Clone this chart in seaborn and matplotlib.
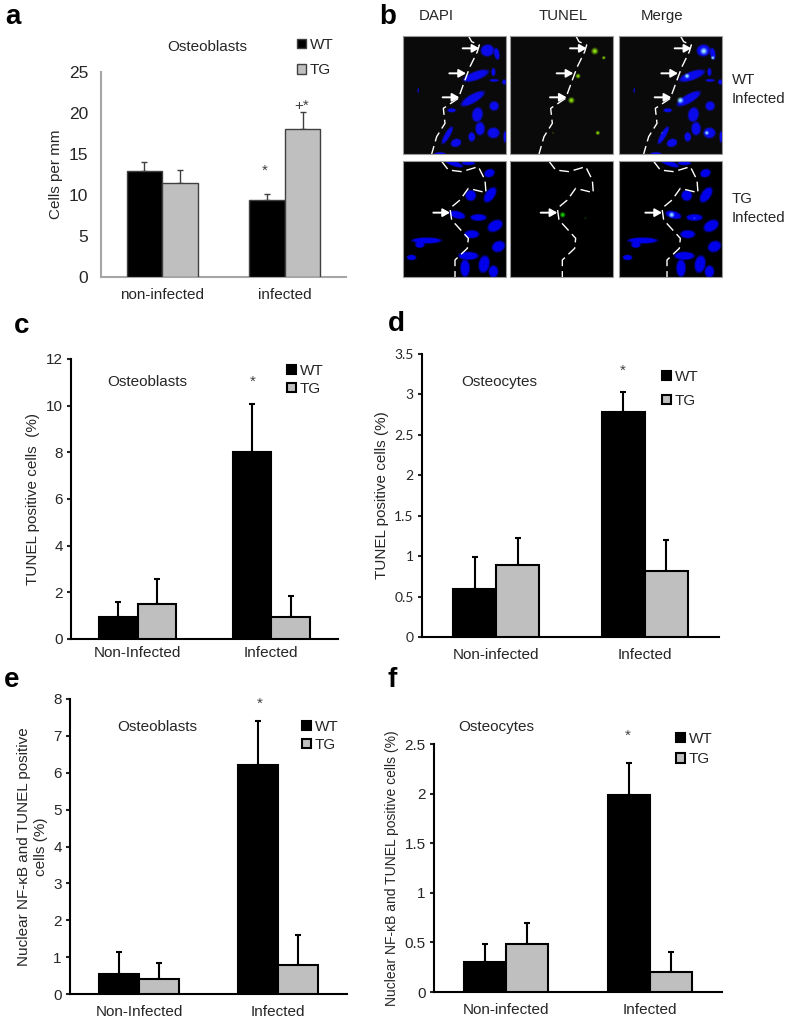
# plot.py - six panel figure, bar charts plus the micrograph panel b

import numpy as np
import pandas as pd
import seaborn as sns
import matplotlib.pyplot as plt
from matplotlib.patches import Patch, Rectangle

W, H = 787, 1023
GREY = '#bfbfbf'

# Bar values, order: non-infected, infected
a_wt = [12.9, 9.4]
a_tg = [11.5, 18.1]
a_wt_err = [1.1, 0.7]
a_tg_err = [1.6, 2.0]
a_cats = ['non-infected', 'infected']

c_wt = [0.95, 8.03]
c_tg = [1.5, 0.93]
c_wt_err = [0.65, 2.03]
c_tg_err = [1.06, 0.92]
c_cats = ['Non-Infected', 'Infected']

d_wt = [0.59, 2.78]
d_tg = [0.89, 0.82]
d_wt_err = [0.4, 0.25]
d_tg_err = [0.33, 0.38]
d_cats = ['Non-infected', 'Infected']

e_wt = [0.55, 6.2]
e_tg = [0.42, 0.8]
e_wt_err = [0.6, 1.2]
e_tg_err = [0.42, 0.8]
e_cats = ['Non-Infected', 'Infected']

f_wt = [0.3, 1.99]
f_tg = [0.48, 0.2]
f_wt_err = [0.18, 0.32]
f_tg_err = [0.22, 0.2]
f_cats = ['Non-infected', 'Infected']

# Micrograph blobs (x, y, rx, ry, angle), in units of 1/3 pixel
cells_top = [(292, 150, 20, 18, -10), (320, 160, 8, 18, -10), (258, 226, 40, 13, -20),
             (310, 215, 6, 12, 0), (312, 240, 14, 4, 0), (342, 245, 6, 8, 0),
             (248, 295, 40, 13, -30), (185, 330, 13, 6, 0), (262, 343, 16, 22, 10),
             (312, 317, 14, 14, 0), (270, 385, 14, 20, 0), (245, 410, 10, 14, 0),
             (310, 398, 18, 16, 0), (172, 405, 8, 30, 30), (198, 428, 16, 12, -20),
             (150, 460, 16, 4, 0), (344, 410, 4, 18, 0), (85, 270, 2, 8, 0)]
cells_bottom = [(190, 490, 30, 8, 20), (235, 490, 20, 6, 0), (298, 520, 16, 12, -20),
                (242, 587, 16, 16, 0), (300, 585, 14, 26, 35), (202, 645, 24, 11, 15),
                (265, 653, 24, 10, 0), (315, 678, 24, 16, -30), (245, 703, 22, 12, 0),
                (110, 722, 44, 9, 0), (90, 735, 14, 9, 0), (325, 740, 20, 16, -25),
                (65, 773, 14, 8, 0), (235, 768, 30, 12, 0), (225, 805, 14, 26, 0),
                (282, 793, 16, 26, 10), (310, 815, 14, 18, 0)]
spots_top = [(293, 152, 10), (320, 172, 5), (243, 227, 7), (223, 300, 9), (302, 398, 6), (168, 398, 3)]
spots_bottom = [(197, 645, 8), (265, 655, 3)]
line_top = [(235, 107), (245, 125), (268, 135), (262, 155), (240, 200), (225, 240),
            (205, 295), (160, 325), (165, 370), (140, 410), (125, 462)]
line_bottom = [(155, 484), (175, 510), (215, 515), (265, 500), (285, 540), (288, 578),
               (235, 565), (210, 600), (180, 625), (185, 660), (235, 715), (232, 745),
               (195, 780), (195, 832)]
arrows_top = [(268, 145), (228, 220), (208, 292)]
arrows_bottom = [(180, 638)]


def bar_panel(fig, box, ymax, yticks, wt, tg, wt_err, tg_err, cats, ylabel=None, grey_axes=False,
              legend_at=(0, 0), legend_gap=1.0, xpad=8, tick_font=None, ylab_size=11):
    left, right, top, bottom = box
    ax = fig.add_axes([left / W, 1 - bottom / H, (right - left) / W, (bottom - top) / H])
    df = pd.DataFrame({'cat': cats * 2,
                       'val': wt + tg,
                       'geno': ['WT'] * len(wt) + ['TG'] * len(tg)})
    edge = '#404040' if grey_axes else 'black'
    lw = 1.0 if grey_axes else 1.5
    sns.barplot(data=df, x='cat', y='val', hue='geno', palette={'WT': 'black', 'TG': GREY},
                width=0.58, gap=0, errorbar=None, edgecolor=edge, linewidth=lw, legend=False,
                ax=ax, zorder=3)
    bars = [p for p in ax.patches if p.get_height() > 0]
    errs = wt_err + tg_err
    for p, e in zip(bars, errs):
        ax.errorbar(p.get_x() + p.get_width() / 2, p.get_height(), yerr=[[0], [e]], color=edge,
                    elinewidth=lw, capsize=2.5, capthick=lw, zorder=2)
    ax.set_xlim(-0.5, 1.5)
    ax.set_ylim(0, ymax)
    ax.set_yticks(yticks)
    ax.set_yticklabels([f'{t:g}' for t in yticks])
    ax.set_xlabel('')
    ax.set_ylabel(ylabel if ylabel else '', fontsize=ylab_size, color='#262626')
    sns.despine(ax=ax)
    axis_col = '#a6a6a6' if grey_axes else 'black'
    for s in ['left', 'bottom']:
        ax.spines[s].set_color(axis_col)
        ax.spines[s].set_linewidth(1.5)
    ax.tick_params(axis='x', length=0, pad=xpad, labelsize=11, labelcolor='#262626')
    ax.tick_params(axis='y', length=0 if grey_axes else 3, width=1.5, pad=3 if not grey_axes else 9,
                   labelsize=12.5 if grey_axes else 11, labelcolor='#262626')
    if tick_font:
        for t in ax.get_yticklabels():
            t.set_family(tick_font)
            t.set_fontsize(10)
    handles = [Patch(facecolor='black', edgecolor=edge, linewidth=lw),
               Patch(facecolor=GREY, edgecolor=edge, linewidth=lw)]
    ax.legend(handles, ['WT', 'TG'], loc='upper left',
              bbox_to_anchor=(legend_at[0] / W, 1 - legend_at[1] / H), bbox_transform=fig.transFigure,
              frameon=False, borderpad=0, borderaxespad=0, fontsize=11, handlelength=0.6,
              handleheight=0.6, handletextpad=0.25, labelspacing=legend_gap, labelcolor='#262626')
    return ax


def render_cells(cells, spots, mode, ytop, ybot, bg):
    xs = np.arange(40, 348)
    ys = np.arange(ytop, ybot)
    X, Y = np.meshgrid(xs, ys)
    blue = np.zeros(X.shape)
    if mode != 'tunel':
        for cx, cy, rx, ry, ang in cells:
            t = np.deg2rad(ang)
            u = (X - cx) * np.cos(t) + (Y - cy) * np.sin(t)
            v = -(X - cx) * np.sin(t) + (Y - cy) * np.cos(t)
            r = np.sqrt((u / rx) ** 2 + (v / ry) ** 2)
            blue = np.maximum(blue, np.clip((1.15 - r) * 3, 0, 1))
    spot = np.zeros(X.shape)
    for cx, cy, r0 in spots:
        r = np.hypot(X - cx, Y - cy) / r0
        spot = np.maximum(spot, np.clip(1.2 - r, 0, 1) * (1 if r0 > 4 else 0.4))
    img = np.zeros(X.shape + (3,)) + bg
    if mode == 'dapi':
        img[..., 2] = np.maximum(img[..., 2], blue * 0.92)
    elif mode == 'tunel':
        img[..., 0] += spot * (0.55 if ytop < 300 else 0.1)
        img[..., 1] += spot * 0.9
    else:
        img[..., 0] += spot * 0.6
        img[..., 1] += spot * 0.95
        img[..., 2] = np.maximum(img[..., 2], blue * 0.92)
        img[..., 2] += spot
    return np.clip(img, 0, 1)


def micro_panels(ov):
    col_x = [(403, 506), (510, 613), (619, 722)]
    modes = ['dapi', 'tunel', 'merge']
    line_dx = [0, 322, 636]
    rows = [(cells_top, spots_top, line_top, arrows_top, 107, 462, 36, 154, 0.04),
            (cells_bottom, spots_bottom, line_bottom, arrows_bottom, 484, 832, 161, 277, 0.0)]
    for cells, spots, line, arrows, yt, yb, py0, py1, bg in rows:
        for (x0, x1), mode, dx in zip(col_x, modes, line_dx):
            ov.imshow(render_cells(cells, spots, mode, yt, yb, bg), extent=(x0, x1, py1, py0),
                      aspect='auto', interpolation='bilinear', zorder=1)
            ov.add_patch(Rectangle((x0, py0), x1 - x0, py1 - py0, fill=False, ec='#9a9a9a', lw=0.8, zorder=3))
            lx = [(p[0] + dx + 390) / 3 + 390 * 2 / 3 * 0 for p in line]
            lx = [390 + (p[0] + dx) / 3 for p in line]
            ly = [p[1] / 3 for p in line]
            ov.plot(lx, ly, color='white', lw=1.0, dashes=(7, 3.5), zorder=2)
            for tx, ty in arrows:
                ov.annotate('', xy=(390 + (tx + dx) / 3, ty / 3), xytext=(390 + (tx + dx - 50) / 3, ty / 3),
                            arrowprops=dict(arrowstyle='-|>,head_length=0.35,head_width=0.2',
                                            color='white', lw=1.4, shrinkA=0, shrinkB=0), zorder=4)


def main():
    sns.set_theme(style='ticks')
    plt.rcParams['font.family'] = ['Liberation Sans', 'DejaVu Sans']
    fig = plt.figure(figsize=(W / 100, H / 100), dpi=100, facecolor='white')

    bar_panel(fig, (101, 346, 72, 277), 25, [0, 5, 10, 15, 20, 25], a_wt, a_tg, a_wt_err, a_tg_err, a_cats,
              'Cells per mm', grey_axes=True, legend_at=(297, 38), legend_gap=0.75, xpad=8)
    bar_panel(fig, (71, 338, 359, 639), 12, [0, 2, 4, 6, 8, 10, 12], c_wt, c_tg, c_wt_err, c_tg_err, c_cats,
              'TUNEL positive cells  (%)', legend_at=(287, 364), legend_gap=0.25, xpad=5)
    bar_panel(fig, (422, 719, 354, 637), 3.5, [0, 0.5, 1, 1.5, 2, 2.5, 3, 3.5], d_wt, d_tg, d_wt_err, d_tg_err,
              d_cats, 'TUNEL positive cells (%)', legend_at=(662, 370), legend_gap=0.65, xpad=8, tick_font='Lato')
    bar_panel(fig, (70, 347, 699, 994), 8, list(range(9)), e_wt, e_tg, e_wt_err, e_tg_err, e_cats,
              'Nuclear NF-κB and TUNEL positive\ncells (%)', legend_at=(302, 720), legend_gap=0.25, xpad=8)
    bar_panel(fig, (434, 722, 744, 992), 2.5, [0, 0.5, 1, 1.5, 2, 2.5], f_wt, f_tg, f_wt_err, f_tg_err, f_cats,
              'Nuclear NF-κB and TUNEL positive cells (%)', legend_at=(676, 732), legend_gap=0.4, xpad=8,
              ylab_size=10)

    # overlay in pixel coordinates for micrographs and annotations
    ov = fig.add_axes([0, 0, 1, 1], zorder=10)
    ov.patch.set_alpha(0)
    micro_panels(ov)
    ov.set_xlim(0, W)
    ov.set_ylim(H, 0)
    ov.axis('off')

    for letter, x, y in [('a', 5, 24), ('b', 379, 24), ('c', 14, 333), ('d', 388, 331), ('e', 4, 687), ('f', 388, 687)]:
        ov.text(x, y, letter, fontsize=20, fontweight='bold', color='black', ha='left', va='baseline')
    for title, x, y in [('Osteoblasts', 207, 47), ('Osteoblasts', 147, 382), ('Osteocytes', 499, 382),
                        ('Osteoblasts', 157, 727), ('Osteocytes', 496, 727)]:
        ov.text(x, y, title, fontsize=11, color='#262626', ha='center', va='center')
    for star, x, y in [('*', 265, 171), ('+*', 302, 106), ('*', 253, 382), ('*', 623, 371), ('*', 260, 704), ('*', 628, 736)]:
        ov.text(x, y, star, fontsize=11, color='#404040', ha='center', va='center')
    for label, x, y in [('DAPI', 436, 16), ('TUNEL', 563, 16), ('Merge', 662, 16)]:
        ov.text(x, y, label, fontsize=10.8, color='#262626', ha='center', va='center')
    for label, y in [('WT', 80), ('Infected', 99), ('TG', 199), ('Infected', 218)]:
        ov.text(732, y, label, fontsize=10.8, color='#262626', ha='left', va='center')

    fig.savefig('out.png', dpi=100)


if __name__ == "__main__":
    main()
